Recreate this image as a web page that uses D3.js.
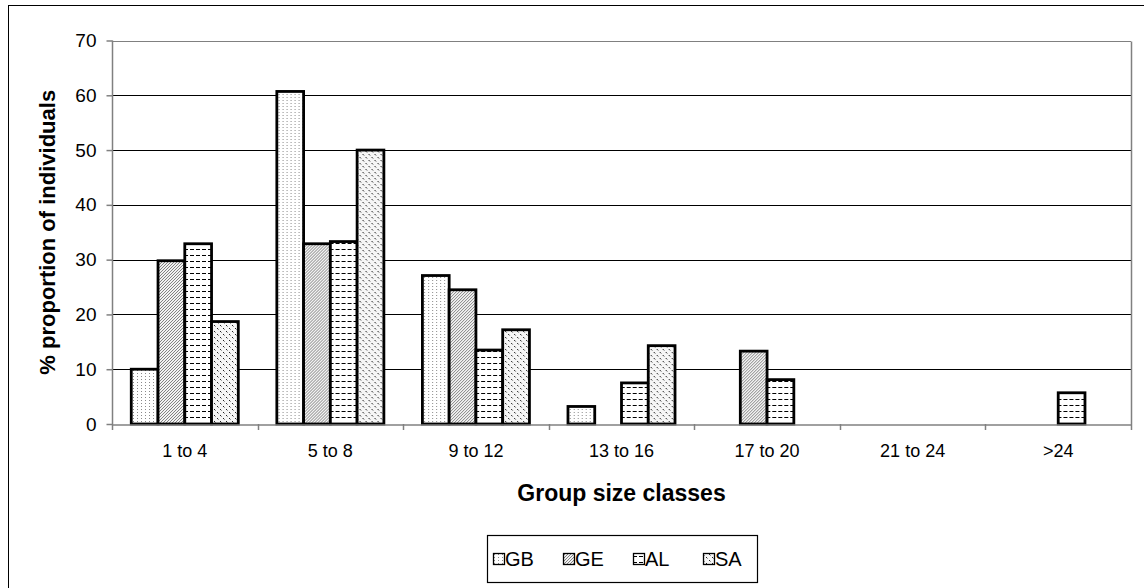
<!DOCTYPE html>
<html>
<head>
<meta charset="utf-8">
<script src="https://cdn.jsdelivr.net/npm/d3@7"></script>
<style>
  html, body { margin: 0; padding: 0; background: #fff; }
  svg { display: block; font-family: "Liberation Sans", Arial, sans-serif; }
</style>
</head>
<body>
<svg id="chart" width="1144" height="588"></svg>
<script>
// Group size classes and the share of individuals in each, per population
const categories = ["1 to 4", "5 to 8", "9 to 12", "13 to 16", "17 to 20", "21 to 24", ">24"];
const seriesNames = ["GB", "GE", "AL", "SA"];
const GB = [10.0, 60.7, 27.1, 3.2, 0, 0, 0];
const GE = [29.8, 32.9, 24.5, 0, 13.3, 0, 0];
const AL = [32.9, 33.3, 13.5, 7.5, 8.1, 0, 5.7];
const SA = [18.7, 50.0, 17.2, 14.3, 0, 0, 0];
const yTicks = [0, 10, 20, 30, 40, 50, 60, 70];

const seriesValues = { GB, GE, AL, SA };

const svg = d3.select("#chart");
const plot = { left: 112, right: 1131, top: 40.5, bottom: 424 };

// Fill patterns for each series
const defs = svg.append("defs");

const pGB = defs.append("pattern").attr("id", "pat-GB")
  .attr("patternUnits", "userSpaceOnUse").attr("width", 4).attr("height", 3);
pGB.append("rect").attr("width", 4).attr("height", 3).attr("fill", "#fff");
pGB.append("rect").attr("x", 1).attr("y", 1).attr("width", 1).attr("height", 1).attr("fill", "#8a8a8a");

const pGE = defs.append("pattern").attr("id", "pat-GE")
  .attr("patternUnits", "userSpaceOnUse").attr("width", 3).attr("height", 3);
pGE.append("rect").attr("width", 3).attr("height", 3).attr("fill", "#f2f2f2");
pGE.append("path").attr("d", "M0,3 L3,0 M-1,1 L1,-1 M2,4 L4,2")
  .attr("stroke", "#666").attr("stroke-width", 0.8);

const pAL = defs.append("pattern").attr("id", "pat-AL")
  .attr("patternUnits", "userSpaceOnUse").attr("width", 6).attr("height", 6);
pAL.append("rect").attr("width", 6).attr("height", 6).attr("fill", "#fff");
pAL.append("rect").attr("x", 0).attr("y", 3).attr("width", 4).attr("height", 1).attr("fill", "#000");

const pSA = defs.append("pattern").attr("id", "pat-SA")
  .attr("patternUnits", "userSpaceOnUse").attr("width", 6).attr("height", 6);
pSA.append("rect").attr("width", 6).attr("height", 6).attr("fill", "#f6f6f6");
[[0, 1], [3, 4], [1, 2], [4, 5]].forEach(([x, y], i) => {
  pSA.append("rect").attr("x", x).attr("y", y).attr("width", 1).attr("height", 1)
    .attr("fill", i < 2 ? "#222" : "#9a9a9a");
});

const fills = { GB: "url(#pat-GB)", GE: "url(#pat-GE)", AL: "url(#pat-AL)", SA: "url(#pat-SA)" };

// Outer chart frame
svg.append("rect").attr("x", 8.5).attr("y", 5.5).attr("width", 1300).attr("height", 900)
  .attr("fill", "none").attr("stroke", "#000").attr("stroke-width", 1);

// Scales
const x0 = d3.scaleBand().domain(categories).range([plot.left, plot.right]).padding(0);
const x1 = d3.scaleBand().domain(seriesNames).range([0, x0.bandwidth()])
  .paddingInner(0).paddingOuter(0.72);
const y = d3.scaleLinear().domain([0, 70]).range([plot.bottom, plot.top]);

// Gridlines
svg.append("g").selectAll("line").data(yTicks.filter(d => d > 0)).join("line")
  .attr("x1", plot.left).attr("x2", plot.right)
  .attr("y1", d => Math.round(y(d)) + 0.5).attr("y2", d => Math.round(y(d)) + 0.5)
  .attr("stroke", d => d === 70 ? "#808080" : "#000").attr("stroke-width", 1);

// Plot-area right edge
svg.append("line").attr("x1", plot.right + 0.5).attr("x2", plot.right + 0.5)
  .attr("y1", Math.round(y(70)) + 0.5).attr("y2", plot.bottom)
  .attr("stroke", "#808080").attr("stroke-width", 1.5);

// Bars
const groups = svg.append("g").selectAll("g").data(categories).join("g")
  .attr("transform", d => `translate(${x0(d)},0)`);
groups.selectAll("rect")
  .data((c, i) => seriesNames.map(s => ({ s, v: seriesValues[s][i] })).filter(d => d.v > 0))
  .join("rect")
  .attr("x", d => x1(d.s))
  .attr("y", d => y(d.v))
  .attr("width", x1.bandwidth())
  .attr("height", d => y(0) - y(d.v))
  .attr("fill", d => fills[d.s])
  .attr("stroke", "#000").attr("stroke-width", 2.8);

// Y axis
const yAxis = svg.append("g").attr("transform", `translate(${plot.left + 0.5},0)`)
  .call(d3.axisLeft(y).tickValues(yTicks).tickSize(6).tickPadding(10).tickFormat(d3.format("d")));
yAxis.select(".domain").attr("stroke", "#808080").attr("stroke-width", 1.5)
  .attr("d", `M0,${plot.top}V${plot.bottom}`);
yAxis.selectAll(".tick line").attr("stroke", "#808080").attr("stroke-width", 1.5);
yAxis.selectAll(".tick text").attr("font-size", 19).attr("fill", "#000")
  .attr("font-family", "Liberation Sans, Arial, sans-serif");

// X axis
const xAxis = svg.append("g").attr("transform", `translate(0,${plot.bottom + 0.5})`)
  .call(d3.axisBottom(x0).tickSize(0).tickPadding(20));
xAxis.select(".domain").attr("stroke", "#808080").attr("stroke-width", 1.5);
xAxis.selectAll(".tick text").attr("font-size", 18).attr("fill", "#000")
  .attr("font-family", "Liberation Sans, Arial, sans-serif");
// Tick marks between classes
svg.append("g").selectAll("line")
  .data(categories.map(c => x0(c)).concat([plot.right]))
  .join("line")
  .attr("x1", d => Math.round(d) + 0.5).attr("x2", d => Math.round(d) + 0.5)
  .attr("y1", plot.bottom).attr("y2", plot.bottom + 6)
  .attr("stroke", "#808080").attr("stroke-width", 1.5);

// Axis titles
svg.append("text")
  .attr("x", (plot.left + plot.right) / 2).attr("y", 501)
  .attr("text-anchor", "middle").attr("font-size", 23).attr("font-weight", "bold")
  .text("Group size classes");

svg.append("text")
  .attr("transform", `translate(55,${(plot.top + plot.bottom) / 2}) rotate(-90)`)
  .attr("text-anchor", "middle").attr("font-size", 22).attr("font-weight", "bold")
  .text("% proportion of individuals");

// Legend
const legend = svg.append("g");
legend.append("rect").attr("x", 487.5).attr("y", 535.5).attr("width", 270).attr("height", 47)
  .attr("fill", "#fff").attr("stroke", "#000").attr("stroke-width", 1.2);
const legendX = d3.scalePoint().domain(seriesNames).range([493, 703]);
const items = legend.selectAll("g.item").data(seriesNames).join("g").attr("class", "item")
  .attr("transform", d => `translate(${legendX(d)},553)`);
items.append("rect").attr("x", 0.5).attr("y", 0.5).attr("width", 11).attr("height", 11)
  .attr("fill", d => fills[d]).attr("stroke", "#000").attr("stroke-width", 1.3);
items.append("text").attr("x", 12).attr("y", 13).attr("font-size", 20)
  .text(d => d);
</script>
</body>
</html>
